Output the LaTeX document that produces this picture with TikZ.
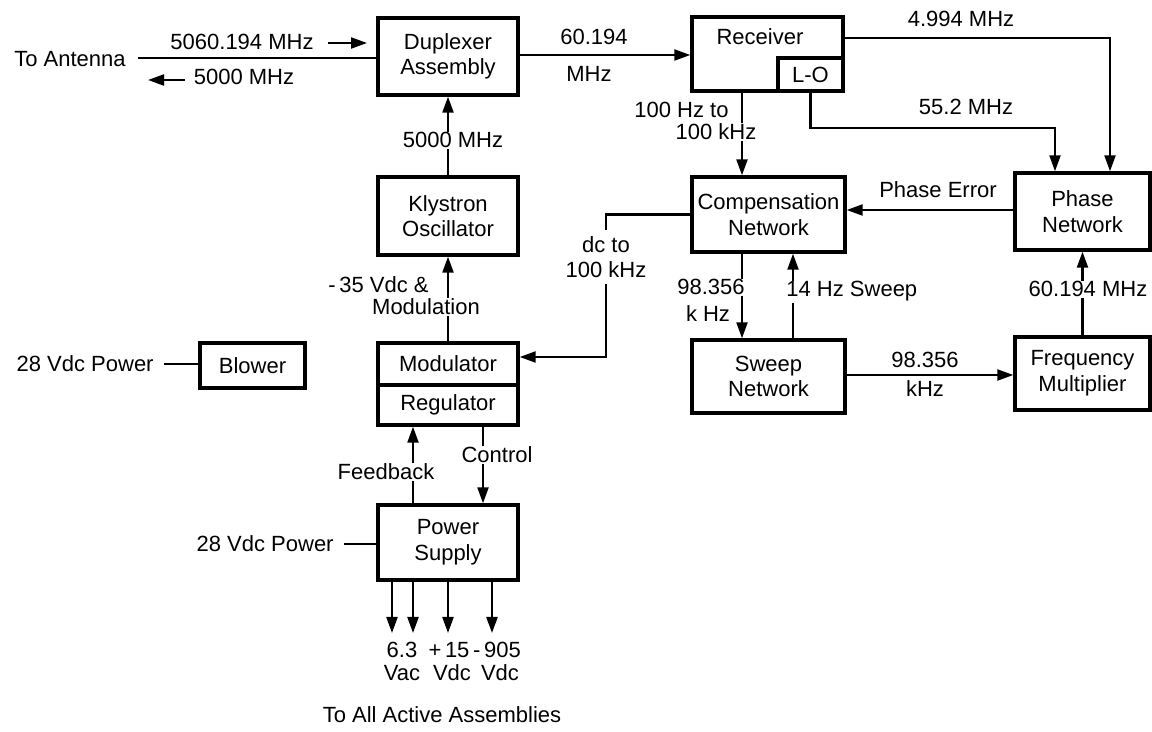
\documentclass[tikz,border=0pt]{standalone}
\usepackage{fontspec}
\setmainfont{Liberation Sans}
\usetikzlibrary{arrows.meta}
\begin{document}
\begin{tikzpicture}[x=0.5pt,y=-0.5pt,
  font=\fontsize{11}{12.8}\selectfont,
  box/.style={draw, line width=1.7pt, align=center, inner sep=0pt},
  conn/.style={line width=1.1pt},
  arr/.style={conn, -{Triangle[length=8pt,width=5.5pt]}},
  lbl/.style={inner sep=0.5pt, align=center},
  wl/.style={lbl, fill=white},
]
\useasboundingbox (0,0) rectangle (1152,732);
% helper coordinates
\coordinate (y38) at (0,38);
\coordinate (y55) at (0,55);
\coordinate (y210) at (0,210);
\coordinate (y357) at (0,357);
\coordinate (y375) at (0,375);
\coordinate (x413) at (413,0);
\coordinate (x483) at (483,0);
\coordinate (x606) at (606,0);
\coordinate (x742) at (742,0);
\coordinate (x793) at (793,0);
\coordinate (x1055) at (1055,0);
\coordinate (x1110) at (1110,0);

% boxes
\node[box, minimum width=70pt, minimum height=38.5pt] (dup) at (448,56.5) {Duplexer\\Assembly};
\node[box, minimum width=75.5pt, minimum height=37pt] (rec) at (767.5,54) {};
\node[box, minimum width=32.5pt, minimum height=16.5pt] (lo) at (810.5,74.5) {L-O};
\node[lbl, anchor=base] (recT) at (760,45) {Receiver};
\node[box, minimum width=70pt, minimum height=39pt] (kly) at (448,216) {Klystron\\Oscillator};
\node[box, minimum width=76.5pt, minimum height=37.5pt] (comp) at (768.5,214.5) {Compensation\\Network};
\node[box, minimum width=67.5pt, minimum height=38.5pt] (phase) at (1082.5,211.5) {Phase\\Network};
\node[box, minimum width=52.5pt, minimum height=22.5pt] (blow) at (252.5,365.5) {Blower};
\node[box, minimum width=70pt, minimum height=21pt] (mod) at (448,364) {Modulator};
\node[box, minimum width=70pt, minimum height=20pt] (reg) at (448,405) {Regulator};
\node[box, minimum width=76.5pt, minimum height=36.5pt] (sweep) at (768.5,376.5) {Sweep\\Network};
\node[box, minimum width=67.5pt, minimum height=36.5pt] (fm) at (1082.5,373.5) {Frequency\\Multiplier};
\node[box, minimum width=70pt, minimum height=37.5pt] (ps) at (448,542.5) {Power\\Supply};

% antenna
\coordinate (ant) at (138,58);
\draw[conn] (ant) -- (ant -| dup.west);
\node[lbl, anchor=base] (antT) at (70,67) {To Antenna};
\node[lbl, anchor=base] (f1) at (242,50) {5060.194 MHz};
\coordinate (a1s) at (328,43); \coordinate (a1e) at (367,43);
\draw[arr] (a1s) -- (a1e);
\node[lbl, anchor=base] (f2) at (244,85) {5000 MHz};
\coordinate (a2s) at (185,80); \coordinate (a2e) at (148,80);
\draw[arr] (a2s) -- (a2e);

% duplexer -> receiver
\draw[arr] (dup.east |- y55) -- (rec.west |- y55);
\node[lbl, anchor=base] (l60a) at (594,45) {60.194};
\node[lbl, anchor=base] (l60b) at (589,82) {MHz};

% receiver -> phase
\draw[arr] (rec.east |- y38) -| (phase.north -| x1110);
\node[lbl, anchor=base] (l4994) at (961,27) {4.994 MHz};
\draw[arr] (lo.south) -- ++(0,35) -| (phase.north -| x1055);
\node[lbl, anchor=base] (l552) at (966,115) {55.2 MHz};

% receiver -> compensation
\draw[arr] (rec.south -| x742) -- (comp.north -| x742);
\node[lbl, anchor=base east] (l100a) at (730,118) {100 Hz to};
\node[wl, anchor=base] (l100b) at (716,140) {100 kHz};

% phase -> compensation
\draw[arr] (phase.west |- y210) -- (comp.east |- y210);
\node[lbl, anchor=base] (lpe) at (938,198) {Phase Error};

% klystron -> duplexer
\draw[arr] (kly.north) -- (dup.south);
\node[wl, anchor=base] (l5000) at (453,148) {5000 MHz};

% modulator -> klystron
\draw[arr] (mod.north) -- (kly.south);
\node[lbl, anchor=base east] (l35) at (430,293) {-\,35 Vdc \&};
\node[wl, anchor=base] (lmodu) at (426,315) {Modulation};

% compensation -> modulator
\draw[arr] (comp.west) -| (x606 |- y357) -- (mod.east |- y357);
\node[wl, inner ysep=3pt] (ldc) at (606,257) {dc to\\100 kHz};

% compensation <-> sweep
\draw[arr] (comp.south -| x742) -- (sweep.north -| x742);
\node[wl, anchor=base] (l98a) at (711,295) {98.356};
\node[lbl, anchor=base] (l98b) at (708,322) {k Hz};
\draw[arr] (sweep.north -| x793) -- (comp.south -| x793);
\node[wl, anchor=base west] (l14) at (785,297) {14 Hz Sweep};

% sweep -> frequency multiplier
\draw[arr] (sweep.east |- y375) -- (fm.west |- y375);
\node[lbl, anchor=base] (l98c) at (925,368) {98.356};
\node[lbl, anchor=base] (lkhz) at (925,397) {kHz};

% frequency multiplier -> phase
\draw[arr] (fm.north) -- (phase.south);
\node[wl, anchor=base] (l60c) at (1088,297) {60.194 MHz};

% blower power
\node[lbl, anchor=base east] (l28a) at (155,372) {28 Vdc Power};
\draw[conn] ([xshift=4.5pt]l28a.east) -- (blow.west |- l28a.east);

% power supply
\node[lbl, anchor=base east] (l28b) at (335,552) {28 Vdc Power};
\draw[conn] ([xshift=4.5pt]l28b.east) -- (ps.west |- l28b.east);

\draw[arr] (ps.north -| x413) -- (reg.south -| x413);
\node[wl, anchor=base] (lfb) at (386,480) {Feedback};
\draw[arr] (reg.south -| x483) -- (ps.north -| x483);
\node[wl, anchor=base] (lctl) at (497,463) {Control};

% outputs
\coordinate (o1) at (392,633);
\coordinate (o2) at (413,633);
\coordinate (o3) at (448,633);
\coordinate (o4) at (492,633);
\foreach \o in {o1,o2,o3,o4} \draw[arr] (ps.south -| \o) -- (\o);
\node[lbl, anchor=base] (v1) at (402,657) {6.3};
\node[lbl, anchor=base] (v1b) at (402,680) {Vac};
\node[lbl, anchor=base] (v2) at (449,657) {+\,15};
\node[lbl, anchor=base] (v2b) at (452,680) {Vdc};
\node[lbl, anchor=base] (v3) at (497,657) {-\,905};
\node[lbl, anchor=base] (v3b) at (500,680) {Vdc};
\node[lbl, anchor=base] (lall) at (442,722) {To All Active Assemblies};
\end{tikzpicture}
\end{document}
